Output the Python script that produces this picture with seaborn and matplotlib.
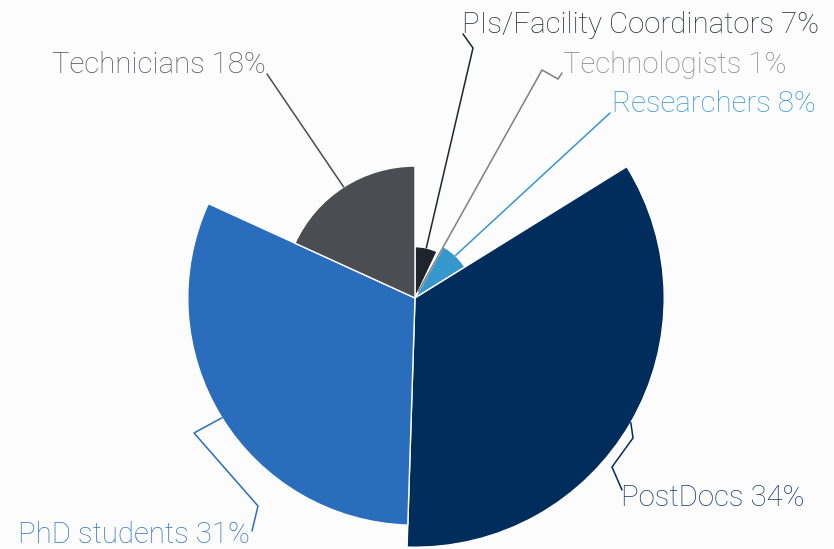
import numpy as np
import pandas as pd
import matplotlib
matplotlib.use("Agg")
import matplotlib.pyplot as plt
import seaborn as sns

# ---- data ----
categories = ["PIs/Facility Coordinators", "Technologists", "Researchers",
              "PostDocs", "PhD students", "Technicians"]
values = [7, 1, 8, 34, 31, 18]
wedge_colors = ["#1f252d", "#7f7f7f", "#3697cc", "#012d5c", "#2b6dbd", "#4b4d52"]
text_colors = ["#2b3038", "#8a8a8a", "#3b9ad0", "#1d3f6e", "#3a77c2", "#55575c"]

df = pd.DataFrame({"category": categories, "value": values})

sns.set_theme(style="white")
plt.rcParams["font.family"] = ["Roboto", "DejaVu Sans"]

W, H = 834, 549
BG = "#fcfcfc"
fig = plt.figure(figsize=(W / 100, H / 100), dpi=100, facecolor=BG)

# polar axes centred at pixel (415, 298)
cx, cy = 415, 298
R_px = 300
px_per_unit = 7.33
rmax = R_px / px_per_unit
ax = fig.add_axes([(cx - R_px) / W, (H - cy - R_px) / H, 2 * R_px / W, 2 * R_px / H],
                  projection="polar")
ax.set_theta_zero_location("N")
ax.set_theta_direction(-1)
ax.set_ylim(0, rmax)
ax.axis("off")
ax.patch.set_alpha(0)

total = df["value"].sum()
fracs = df["value"] / total
starts = np.concatenate([[0], np.cumsum(fracs)[:-1]]) * 2 * np.pi
widths = fracs * 2 * np.pi
ax.bar(starts, df["value"], width=widths, align="edge", color=wedge_colors,
       edgecolor="white", linewidth=1.0)

# overlay axes in pixel coordinates for labels/leaders
ov = fig.add_axes([0, 0, 1, 1])
ov.set_xlim(0, W)
ov.set_ylim(H, 0)
ov.axis("off")
ov.patch.set_alpha(0)

# leader bend points and label placement (layout)
leaders = {
    "PIs/Facility Coordinators": ([(473, 48), (463, 34)], (462, 33), "left"),
    "Technologists": ([(542, 70), (558, 79), (562, 73)], (563, 73), "left"),
    "Researchers": ([(610, 113)], (612, 112), "left"),
    "PostDocs": ([(633, 438), (612, 467), (622, 490)], (621, 506), "left"),
    "PhD students": ([(194, 433), (258, 506), (252, 531)], (250, 543), "right"),
    "Technicians": ([(267, 74)], (266, 73), "right"),
}

fig.canvas.draw()
for i, row in df.iterrows():
    mid = starts[i] + widths[i] / 2
    xd, yd = ax.transData.transform((mid, row["value"]))
    anchor = (xd, H - yd)
    bends, (tx, ty), ha = leaders[row["category"]]
    pts = [anchor] + bends
    ov.plot([p[0] for p in pts], [p[1] for p in pts], color=wedge_colors[i],
            lw=1.1, solid_joinstyle="miter")
    ov.text(tx, ty, f"{row['category']} {row['value']}%", ha=ha, va="baseline",
            fontsize=21.2, fontweight="light", color=text_colors[i])

fig.savefig("out.png", dpi=100, facecolor=BG)
